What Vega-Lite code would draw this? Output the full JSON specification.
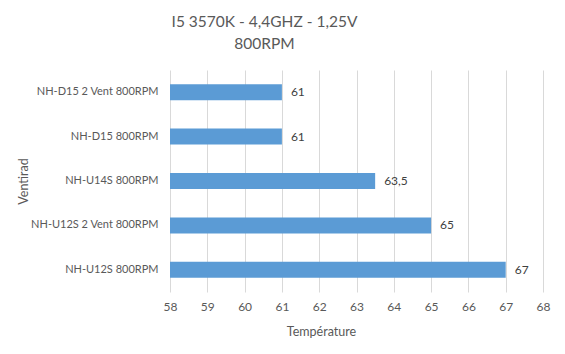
{
  "$schema": "https://vega.github.io/schema/vega-lite/v6.json",
  "autosize": {"type": "none"},
  "width": 373,
  "height": 222,
  "padding": {"left": 170, "top": 70, "right": 22, "bottom": 62},
  "background": "white",
  "config": {
    "locale": {"number": {"decimal": ",", "thousands": " ", "grouping": [3], "currency": ["", " €"]}},
    "font": "Lato",
    "view": {"stroke": null}
  },
  "title": {
    "text": ["I5 3570K - 4,4GHZ - 1,25V", "800RPM"],
    "anchor": "middle",
    "frame": "group",
    "dx": -92,
    "offset": 18,
    "fontSize": 15.5,
    "fontWeight": "normal",
    "color": "#595959",
    "font": "Lato",
    "lineHeight": 22
  },
  "data": {
    "values": [
      {"ventirad": "NH-D15 2 Vent 800RPM", "temp": 61},
      {"ventirad": "NH-D15 800RPM", "temp": 61},
      {"ventirad": "NH-U14S 800RPM", "temp": 63.5},
      {"ventirad": "NH-U12S 2 Vent 800RPM", "temp": 65},
      {"ventirad": "NH-U12S 800RPM", "temp": 67}
    ]
  },
  "encoding": {
    "y": {
      "field": "ventirad",
      "type": "nominal",
      "sort": null,
      "scale": {"paddingInner": 0.64, "paddingOuter": 0.32},
      "axis": {
        "title": "Ventirad",
        "titleFontSize": 12.5,
        "titleFontWeight": "normal",
        "titleColor": "#595959",
        "titleX": -147,
        "titleY": 111,
        "titleAngle": 270,
        "titleAlign": "center",
        "titleBaseline": "middle",
        "labelFontSize": 11,
        "labelColor": "#595959",
        "labelPadding": 12,
        "labelLimit": 200,
        "ticks": false,
        "domain": false,
        "grid": false
      }
    },
    "x": {
      "field": "temp",
      "type": "quantitative",
      "scale": {"domain": [58, 68], "zero": false, "nice": false},
      "axis": {
        "title": "Température",
        "titleFontSize": 12.5,
        "titleFontWeight": "normal",
        "titleColor": "#595959",
        "titleX": 151,
        "titleY": 39,
        "titleAlign": "center",
        "titleBaseline": "middle",
        "values": [58, 59, 60, 61, 62, 63, 64, 65, 66, 67, 68],
        "format": "d",
        "labelFontSize": 12,
        "labelColor": "#595959",
        "labelPadding": 9,
        "labelFlush": false,
        "ticks": false,
        "domain": false,
        "grid": true,
        "gridColor": "#D9D9D9",
        "gridWidth": 1
      }
    }
  },
  "layer": [
    {
      "mark": {"type": "bar", "color": "#5B9BD5"},
      "encoding": {"x2": {"datum": 58}}
    },
    {
      "mark": {"type": "text", "align": "left", "baseline": "middle", "dx": 9, "fontSize": 12, "color": "#404040"},
      "encoding": {
        "text": {"field": "temp", "type": "quantitative", "format": ".1~f"}
      }
    }
  ]
}
